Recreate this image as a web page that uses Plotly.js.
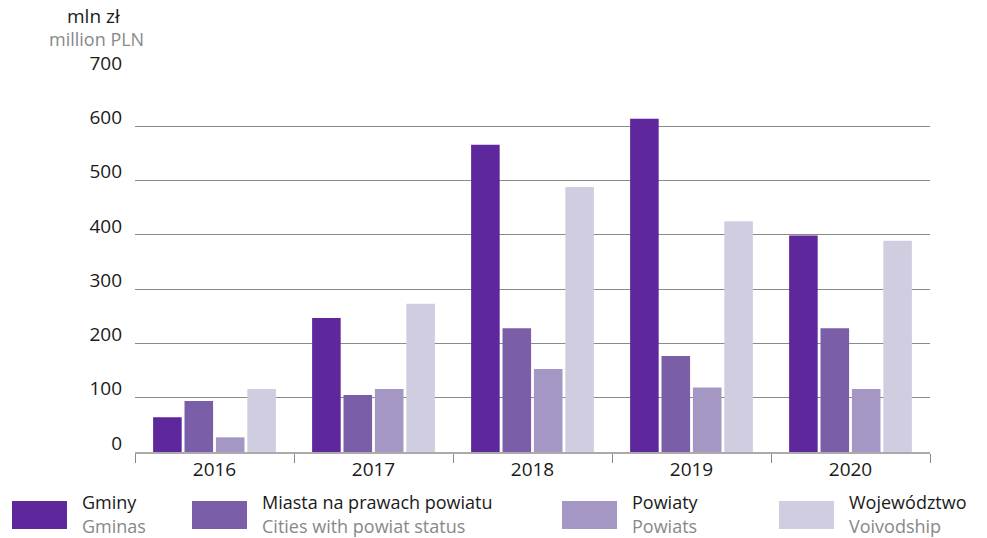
<!DOCTYPE html>
<html><head><meta charset="utf-8">
<script src="https://cdn.plot.ly/plotly-3.0.1.min.js"></script>
<style>html,body{margin:0;padding:0;background:#fff}#c{width:987px;height:538px}</style>
</head><body><div id="c"></div>
<script>
const years = ['2016','2017','2018','2019','2020'];
const gminy = [64, 247, 566, 614, 399];
const miasta = [94, 105, 228, 177, 228];
const powiaty = [27, 116, 153, 119, 116];
const wojewodztwo = [116, 273, 488, 425, 389];
const namesPL = ['Gminy','Miasta na prawach powiatu','Powiaty','Województwo'];
const namesEN = ['Gminas','Cities with powiat status','Powiats','Voivodship'];
const colors = ['#5e279c','#7a5fa8','#a497c3','#d1cde0'];
const yTicks = [0,100,200,300,400,500,600,700];

const series = [gminy, miasta, powiaty, wojewodztwo];
const FONT = 'Open Sans, Noto Sans, sans-serif';
const traces = series.map((v,i)=>({type:'bar', x:years, y:v, name:namesPL[i],
  marker:{color:colors[i]}, showlegend:false, hoverinfo:'skip'}));

const W=987,H=538, L=135, R=57, T=72, B=86;
const pw=W-L-R, ph=H-T-B;
const px=x=>(x-L)/pw, py=y=>(H-B-y)/ph;

const shapes=[], ann=[];
const legX=[12,192,562,779];
for(let i=0;i<4;i++){
  shapes.push({type:'rect',xref:'paper',yref:'paper',x0:px(legX[i]),x1:px(legX[i]+55),y0:py(529),y1:py(501),
    fillcolor:colors[i],line:{width:0}});
  ann.push({xref:'paper',yref:'paper',x:px(legX[i]+68),y:py(502),xanchor:'left',yanchor:'middle',showarrow:false,
    text:namesPL[i],font:{family:FONT,size:18,color:'#1a1a1a'}});
  ann.push({xref:'paper',yref:'paper',x:px(legX[i]+68),y:py(526),xanchor:'left',yanchor:'middle',showarrow:false,
    text:namesEN[i],font:{family:FONT,size:18,color:'#888888'}});
}
ann.push({xref:'paper',yref:'paper',x:px(122),y:py(16),xanchor:'right',yanchor:'middle',showarrow:false,
  text:'mln zł',font:{family:FONT,size:19,color:'#1a1a1a'}});
ann.push({xref:'paper',yref:'paper',x:px(96),y:py(39),xanchor:'center',yanchor:'middle',showarrow:false,
  text:'million PLN',font:{family:FONT,size:18,color:'#888888'}});

const layout={
  width:W,height:H,margin:{l:L,r:R,t:T,b:B},
  paper_bgcolor:'#fff',plot_bgcolor:'#fff',
  barmode:'group',bargap:0.21,bargroupgap:0.09,
  font:{family:FONT,size:19,color:'#1a1a1a'},
  xaxis:{type:'category',tickson:'boundaries',ticks:'outside',ticklen:9,tickcolor:'#888',
    showline:true,linecolor:'#aaa',linewidth:1.5,showgrid:false,tickfont:{size:19,color:'#1a1a1a'}},
  yaxis:{range:[0,700],tickvals:yTicks,ticktext:yTicks.map(String),showgrid:true,gridcolor:'#8a8a8a',gridwidth:1,
    zeroline:false,showline:false,ticks:'',ticklabelposition:'outside',ticklabelshift:-9,
    tickfont:{size:19,color:'#1a1a1a'},ticklabelstandoff:12},
  shapes:shapes,annotations:ann
};
Plotly.newPlot('c',traces,layout,{displayModeBar:false,staticPlot:true});
</script></body></html>
